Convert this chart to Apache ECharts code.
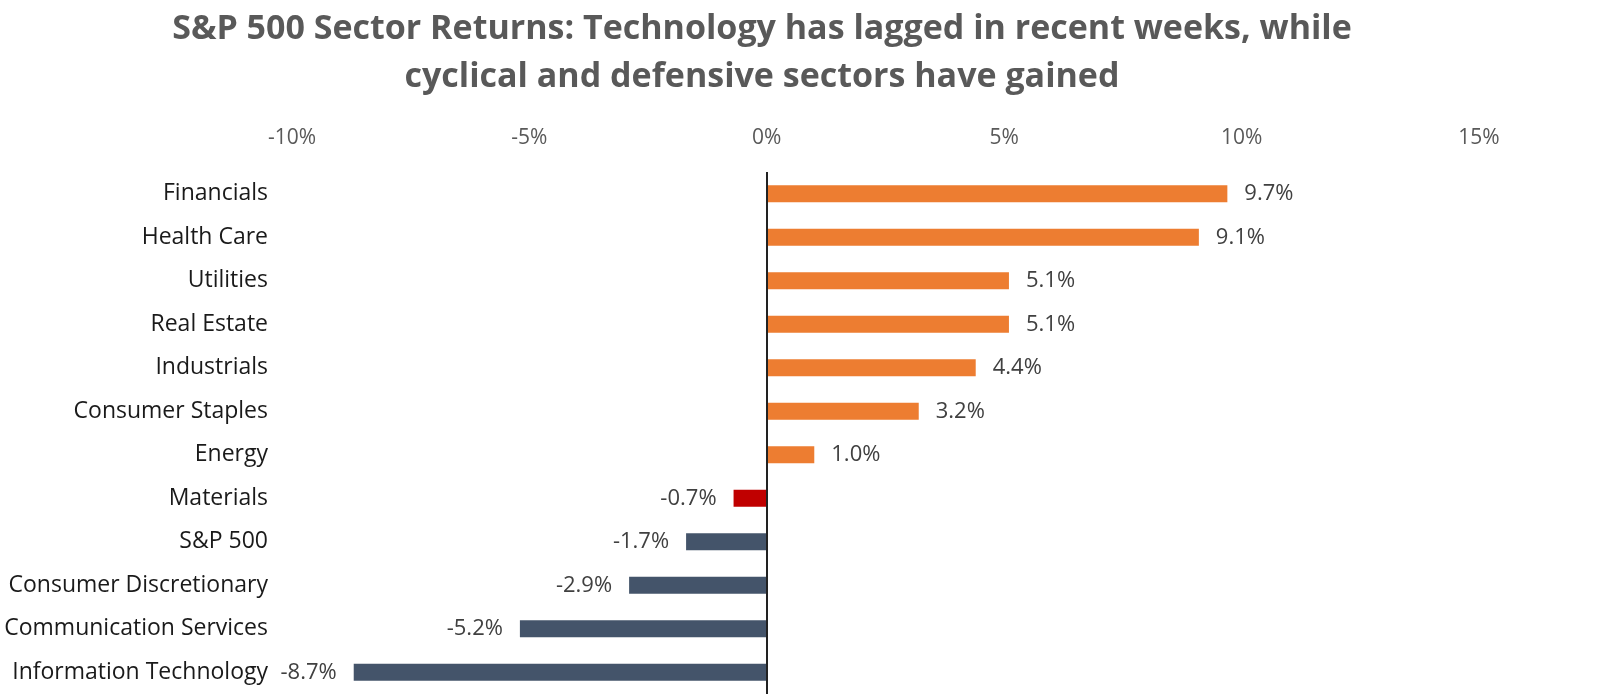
<!DOCTYPE html>
<html>
<head>
<meta charset="utf-8">
<script src="https://cdn.jsdelivr.net/npm/echarts@6/dist/echarts.min.js"></script>
<style>
  html, body { margin: 0; padding: 0; background: #fff; }
  #chart { width: 1600px; height: 694px; }
</style>
</head>
<body>
<div id="chart"></div>
<script>
// sectors top to bottom
const sectors = ['Financials', 'Health Care', 'Utilities', 'Real Estate', 'Industrials',
  'Consumer Staples', 'Energy', 'Materials', 'S&P 500', 'Consumer Discretionary',
  'Communication Services', 'Information Technology'];
const returns = [9.7, 9.1, 5.1, 5.1, 4.4, 3.2, 1.0, -0.7, -1.7, -2.9, -5.2, -8.7];
const xTicks = { min: -10, max: 15, step: 5 };

const highlight = 'Materials';
const ORANGE = '#ED7D31', RED = '#C00000', NAVY = '#44546A';

const chart = echarts.init(document.getElementById('chart'));

const option = {
  backgroundColor: '#fff',
  animation: false,
  title: {
    text: 'S&P 500 Sector Returns: Technology has lagged in recent weeks, while\ncyclical and defensive sectors have gained',
    left: 757,
    textAlign: 'center',
    top: 0,
    textStyle: {
      fontFamily: 'Open Sans',
      fontSize: 34,
      fontWeight: 'bold',
      color: '#595959',
      lineHeight: 48
    }
  },
  grid: { left: 292, right: 121, top: 172, height: 524 },
  xAxis: {
    type: 'value',
    position: 'top',
    min: xTicks.min,
    max: xTicks.max,
    interval: xTicks.step,
    axisLine: { show: false },
    axisTick: { show: false },
    splitLine: { show: false },
    axisLabel: {
      formatter: '{value}%',
      margin: 23,
      fontFamily: 'Open Sans',
      fontSize: 21,
      color: '#595959'
    }
  },
  yAxis: {
    type: 'category',
    inverse: true,
    data: sectors,
    axisLine: { show: false },
    axisTick: { show: false },
    axisLabel: {
      margin: 24,
      fontFamily: 'Open Sans',
      fontSize: 23,
      color: '#1a1a1a'
    }
  },
  series: [{
    type: 'bar',
    barWidth: 17,
    data: returns.map(v => ({ value: v, label: { position: v < 0 ? 'left' : 'right' } })),
    itemStyle: {
      color: p => p.value >= 0 ? ORANGE : (p.name === highlight ? RED : NAVY)
    },
    label: {
      show: true,
      distance: 17,
      formatter: p => p.value.toFixed(1) + '%',
      fontFamily: 'Open Sans',
      fontSize: 22,
      color: '#404040'
    },
    markLine: {
      silent: true,
      symbol: 'none',
      label: { show: false },
      lineStyle: { color: '#222', width: 2, type: 'solid' },
      data: [{ xAxis: 0 }]
    }
  }]
};

chart.setOption(option);
</script>
</body>
</html>
